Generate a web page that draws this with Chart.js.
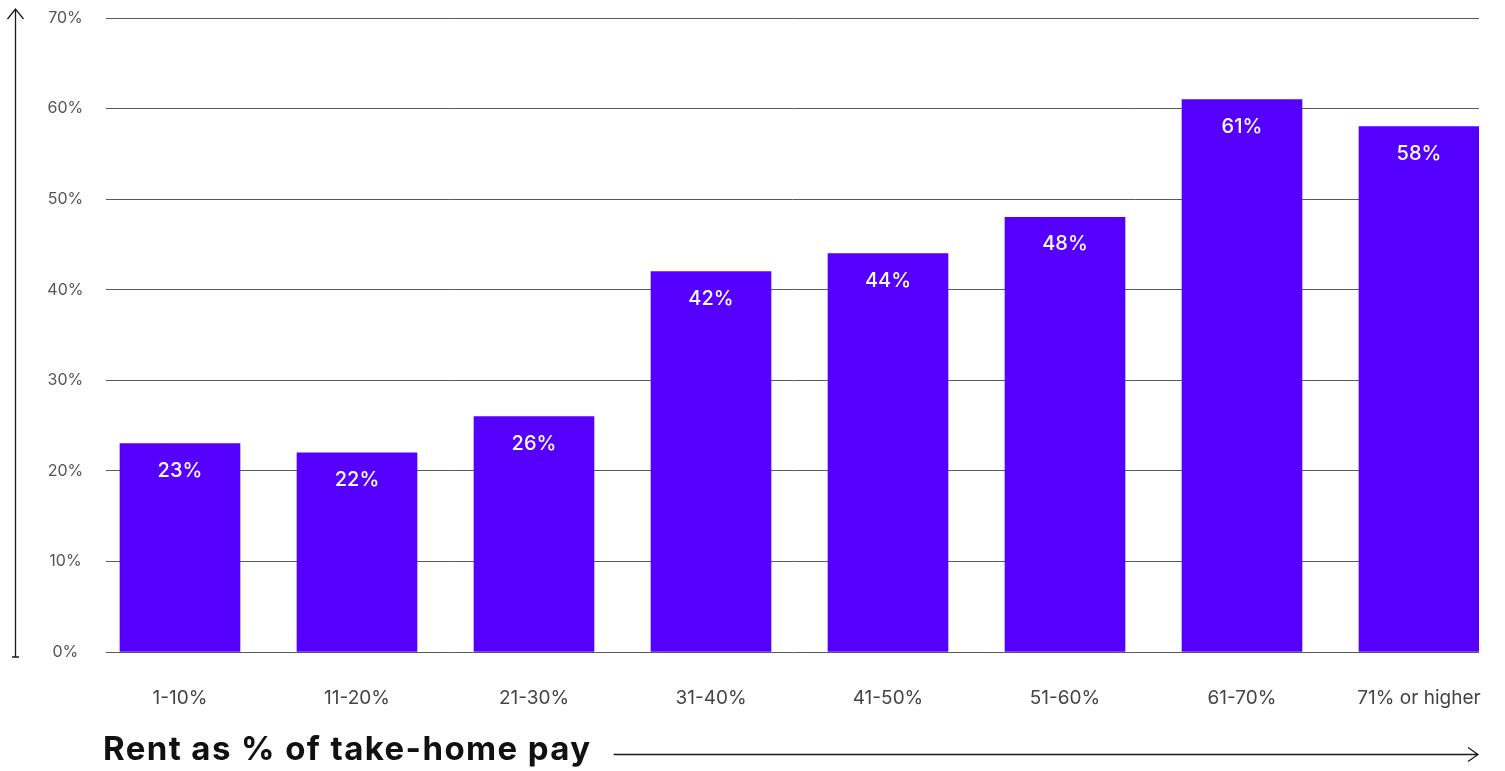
<!DOCTYPE html>
<html>
<head>
<meta charset="utf-8">
<script src="https://cdn.jsdelivr.net/npm/chart.js@4.4.1/dist/chart.umd.min.js"></script>
<style>
  html, body { margin: 0; padding: 0; background: #ffffff; }
  #wrap { width: 1505px; height: 771px; }
</style>
</head>
<body>
<div id="wrap"><canvas id="chart" width="1505" height="771"></canvas></div>
<script>
// Share of renters by rent burden bracket
const categories = ['1-10%', '11-20%', '21-30%', '31-40%', '41-50%', '51-60%', '61-70%', '71% or higher'];
const shares = [23, 22, 26, 42, 44, 48, 61, 58];
const yTicks = [0, 10, 20, 30, 40, 50, 60, 70];
const axisTitle = 'Rent as % of take-home pay';

const FONT = 'Inter, "Noto Sans", sans-serif';
const BAR_COLOR = '#5500ff';
const TITLE_FONT = '700 33px ' + FONT;
const TITLE_SPACING = 1.4;

// White value labels inside the top of each bar
const barValueLabels = {
  id: 'barValueLabels',
  afterDatasetsDraw(chart) {
    const { ctx } = chart;
    const meta = chart.getDatasetMeta(0);
    ctx.save();
    ctx.fillStyle = '#ffffff';
    ctx.font = '500 20px ' + FONT;
    ctx.textAlign = 'center';
    ctx.textBaseline = 'middle';
    meta.data.forEach((bar, i) => {
      ctx.fillText(shares[i] + '%', bar.x, bar.y + 27);
    });
    ctx.restore();
  }
};

// Axis title with arrowed axis lines: vertical at the far left, horizontal after the title
const axisArrows = {
  id: 'axisArrows',
  afterDraw(chart) {
    const { ctx, chartArea } = chart;
    ctx.save();

    // axis title
    const hy = 754.5;
    ctx.font = TITLE_FONT;
    ctx.letterSpacing = TITLE_SPACING + 'px';
    ctx.fillStyle = '#111111';
    ctx.textAlign = 'left';
    ctx.textBaseline = 'middle';
    const titleX = chartArea.left - 3;
    ctx.fillText(axisTitle, titleX, 750);
    const textW = ctx.measureText(axisTitle).width;
    ctx.letterSpacing = '0px';

    ctx.strokeStyle = '#1a1a1a';
    ctx.lineWidth = 1.3;
    ctx.lineCap = 'butt';

    // vertical arrow
    const vx = 15.5, vTop = chartArea.top - 9, vBottom = chartArea.bottom + 5;
    ctx.beginPath();
    ctx.moveTo(vx, vTop);
    ctx.lineTo(vx, vBottom);
    ctx.moveTo(vx - 8, vTop + 10);
    ctx.lineTo(vx, vTop);
    ctx.lineTo(vx + 8, vTop + 10);
    ctx.moveTo(vx - 3.5, vBottom);
    ctx.lineTo(vx + 3.5, vBottom);
    ctx.stroke();

    // horizontal arrow
    const hStart = titleX + textW + 22;
    const hEnd = chartArea.right - 1;
    ctx.beginPath();
    ctx.moveTo(hStart, hy);
    ctx.lineTo(hEnd, hy);
    ctx.moveTo(hEnd - 10, hy - 7);
    ctx.lineTo(hEnd, hy);
    ctx.lineTo(hEnd - 10, hy + 7);
    ctx.stroke();
    ctx.restore();
  }
};

new Chart(document.getElementById('chart'), {
  type: 'bar',
  data: {
    datasets: [{
      data: categories.map((c, i) => ({ x: i, y: shares[i] })),
      backgroundColor: BAR_COLOR,
      borderWidth: 0,
      barThickness: 120
    }]
  },
  options: {
    responsive: false,
    animation: false,
    layout: { padding: { top: 18, right: 26, bottom: 0, left: 0 } },
    plugins: { legend: { display: false }, tooltip: { enabled: false } },
    scales: {
      x: {
        type: 'linear',
        offset: false,
        min: -0.418,
        max: 7.339,
        afterBuildTicks(scale) {
          scale.ticks = categories.map((c, i) => ({ value: i }));
        },
        afterFit(scale) {
          scale.height = 119;
          scale.paddingLeft = 0;
          scale.paddingRight = 0;
        },
        grid: { display: false, drawTicks: false },
        border: { display: false },
        ticks: {
          autoSkip: false,
          maxRotation: 0,
          padding: 35,
          color: '#444444',
          font: { family: FONT, size: 19, weight: '400' },
          callback: (v) => categories[v]
        }
      },
      y: {
        min: 0,
        max: 70,
        afterBuildTicks(scale) {
          scale.ticks = yTicks.map(v => ({ value: v }));
        },
        afterFit(scale) {
          scale.width = 106;
          scale.paddingTop = 0;
          scale.paddingBottom = 0;
        },
        grid: { color: '#5a5a5a', lineWidth: 1, drawTicks: false },
        border: { display: false },
        ticks: {
          crossAlign: 'center',
          padding: 22.5,
          color: '#555555',
          font: { family: FONT, size: 16, weight: '400' },
          callback: (v) => v + '%'
        }
      }
    }
  },
  plugins: [barValueLabels, axisArrows]
});
</script>
</body>
</html>
